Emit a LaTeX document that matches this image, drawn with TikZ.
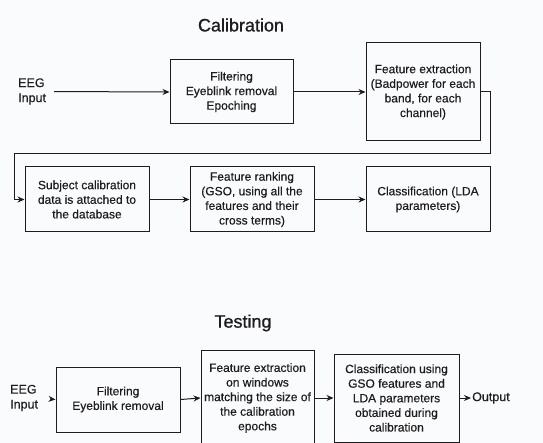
\documentclass[tikz,border=0pt]{standalone}
\usepackage{fontspec}
\setmainfont{Liberation Sans}[FakeBold=0.35]
\newfontfamily\titlefont{Liberation Sans}[FakeBold=0.9]
\usetikzlibrary{arrows.meta}
\definecolor{bgcol}{RGB}{250,251,253}
\definecolor{linecol}{RGB}{30,28,28}
\tikzset{
  box/.style={draw=linecol, line width=1pt, align=center, inner sep=2pt,
    font=\fontsize{12}{14.6}\selectfont, text=linecol},
  lbl/.style={align=left, inner sep=0pt, font=\fontsize{12.5}{15}\selectfont, text=linecol},
  ttl/.style={inner sep=0pt, font=\titlefont\fontsize{18}{20}\selectfont, text=linecol},
  arr/.style={draw=linecol, line width=1pt, -{Stealth[length=7pt,width=6pt]}}
}
\begin{document}
\begin{tikzpicture}[x=1pt,y=-1pt]
\useasboundingbox (0,0) rectangle (543,443);
\clip (0,0) rectangle (543,443);
\fill[bgcol] (0,0) rectangle (543,443);

% Calibration
\node[ttl] (t1) at (241,25) {Calibration};
\node[lbl, anchor=west] (eeg1) at (18,91.5) {EEG\\Input};
\node[box, minimum width=123pt, minimum height=64pt] (f1) at (231.5,92)
  {Filtering\\Eyeblink removal\\Epoching};
\node[box, minimum width=114pt, minimum height=98pt] (fe1) at (423,92)
  {Feature extraction\\(Badpower for each\\band, for each\\channel)};
\node[box, minimum width=124pt, minimum height=65pt] (sub) at (87,199.5)
  {Subject calibration\\data is attached to\\the database};
\node[box, minimum width=124pt, minimum height=65pt] (rank) at (252,199.5)
  {Feature ranking\\(GSO, using all the\\features and their\\cross terms)};
\node[box, minimum width=124pt, minimum height=65pt] (cls) at (428,199.5)
  {Classification (LDA\\parameters)};
\coordinate (c1) at (490,154);
\coordinate (c2) at (14,154);

\draw[arr, shorten <=8pt] (eeg1.east) -- (f1.west);
\draw[arr] (f1.east) -- (fe1.west);
\draw[arr] (fe1.east) -| (c1) -- (c2) |- (sub.west);
\draw[arr] (sub.east) -- (rank.west);
\draw[arr] (rank.east) -- (cls.west);

% Testing
\node[ttl] (t2) at (243,323) {Testing};
\node[lbl, anchor=west] (eeg2) at (10,398) {EEG\\Input};
\node[box, minimum width=124pt, minimum height=65pt] (f2) at (118,399.5)
  {Filtering\\Eyeblink removal};
\node[box, minimum width=113pt, minimum height=96pt] (fe2) at (257.5,398)
  {Feature extraction\\on windows\\matching the size of\\the calibration\\epochs};
\node[box, minimum width=125pt, minimum height=88pt] (cls2) at (396.5,398)
  {Classification using\\GSO features and\\LDA parameters\\obtained during\\calibration};
\node[lbl, anchor=west, inner sep=1pt] (out) at (471,398) {Output};

\draw[arr, shorten <=12pt] (eeg2.east) -- (f2.west);
\draw[arr] (f2.east) -- (fe2.west);
\draw[arr] (fe2.east) -- (cls2.west);
\draw[arr] (cls2.east) -- (out.west);
\end{tikzpicture}
\end{document}
